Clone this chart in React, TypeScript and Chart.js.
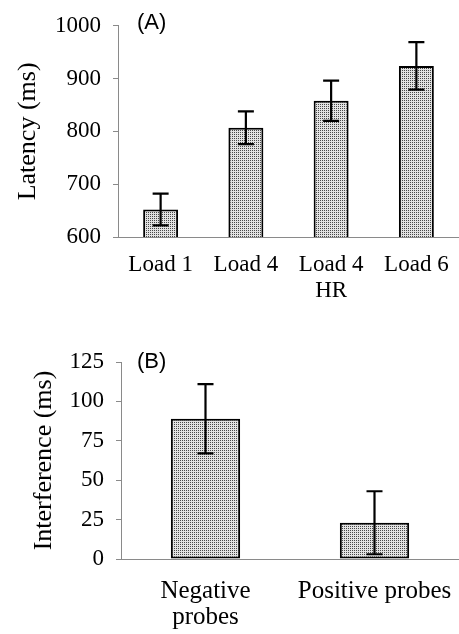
import React, { useEffect, useRef } from "react";
import { Chart, registerables } from "chart.js";

Chart.register(...registerables);

// Panel A data
const loadCategories: (string | string[])[] = ["Load 1", "Load 4", ["Load 4", "HR"], "Load 6"];
const latencyValues = [652, 807, 858, 924];
const latencyErrors = [30, 31, 38, 45];
const latencyTicks = [600, 700, 800, 900, 1000];

// Panel B data
const probeCategories: (string | string[])[] = [["Negative", "probes"], "Positive probes"];
const interferenceValues = [89, 23];
const interferenceErrors = [22, 20];
const interferenceTicks = [0, 25, 50, 75, 100, 125];

const SERIF = "'Liberation Serif', 'Times New Roman', serif";
const SANS = "'Liberation Sans', Arial, sans-serif";

function makePattern(): CanvasPattern | string {
  const c = document.createElement("canvas");
  c.width = 2;
  c.height = 2;
  const g = c.getContext("2d");
  if (!g) return "#bebebe";
  g.fillStyle = "#e2e2e2";
  g.fillRect(0, 0, 2, 2);
  g.fillStyle = "#484848";
  g.fillRect(0, 0, 1, 1);
  const p = g.createPattern(c, "repeat");
  return p || "#bebebe";
}

const errorBarPlugin = {
  id: "errorBars",
  afterDatasetsDraw(chart: any, _args: any, opts: any) {
    const errors: number[] = opts.errors || [];
    const meta = chart.getDatasetMeta(0);
    const data: number[] = chart.data.datasets[0].data;
    const y = chart.scales.y;
    const ctx = chart.ctx;
    ctx.save();
    ctx.strokeStyle = "#000";
    ctx.lineWidth = 2.2;
    const cap = 8;
    meta.data.forEach((bar: any, i: number) => {
      const v = data[i];
      const e = errors[i];
      const yt = y.getPixelForValue(v + e);
      const yb = y.getPixelForValue(v - e);
      const x = bar.x;
      ctx.beginPath();
      ctx.moveTo(x, yt);
      ctx.lineTo(x, yb);
      ctx.moveTo(x - cap, yt);
      ctx.lineTo(x + cap, yt);
      ctx.moveTo(x - cap, yb);
      ctx.lineTo(x + cap, yb);
      ctx.stroke();
    });
    ctx.restore();
  },
};

const panelLabelPlugin = {
  id: "panelLabel",
  afterDraw(chart: any, _args: any, opts: any) {
    const ctx = chart.ctx;
    ctx.save();
    ctx.font = `22px ${SANS}`;
    ctx.fillStyle = "#000";
    ctx.textAlign = "left";
    ctx.textBaseline = "middle";
    ctx.fillText(opts.text, opts.x, opts.y);
    ctx.restore();
  },
};

function buildConfig(p: {
  labels: (string | string[])[];
  values: number[];
  errors: number[];
  ticks: number[];
  title: string;
  panel: string;
  panelY: number;
  yWidth: number;
  xHeight: number;
  padTop: number;
  titlePad: number;
  labelPad: number;
  labelSize: number;
  labelLineHeight: number;
  tickSize: number;
}): any {
  const min = p.ticks[0];
  const max = p.ticks[p.ticks.length - 1];
  const step = p.ticks[1] - p.ticks[0];
  return {
    type: "bar",
    data: {
      labels: p.labels,
      datasets: [
        {
          data: p.values,
          backgroundColor: makePattern(),
          borderColor: "#000",
          borderWidth: 2,
          borderSkipped: false,
          barPercentage: 0.41,
          categoryPercentage: 1,
        },
      ],
    },
    options: {
      responsive: false,
      animation: false,
      devicePixelRatio: 1,
      layout: { padding: { top: p.padTop, left: 0, right: 0, bottom: 0 } },
      plugins: {
        legend: { display: false },
        tooltip: { enabled: false },
        errorBars: { errors: p.errors },
        panelLabel: { text: p.panel, x: 137, y: p.panelY },
      },
      scales: {
        x: {
          grid: { display: false, drawTicks: false },
          border: { display: true, color: "#8a8a8a", width: 1 },
          ticks: {
            color: "#000",
            padding: p.labelPad,
            maxRotation: 0,
            autoSkip: false,
            font: { family: SERIF, size: p.labelSize, lineHeight: p.labelLineHeight },
          },
          afterFit(scale: any) {
            scale.height = p.xHeight;
            scale.paddingLeft = 0;
            scale.paddingRight = 0;
          },
        },
        y: {
          min,
          max,
          grid: {
            display: true,
            drawOnChartArea: false,
            drawTicks: true,
            tickLength: 5,
            color: "#8a8a8a",
          },
          border: { display: true, color: "#8a8a8a", width: 1 },
          ticks: {
            stepSize: step,
            color: "#000",
            padding: 12,
            font: { family: SERIF, size: p.tickSize },
            callback: (v: any) => String(v),
          },
          title: {
            display: true,
            text: p.title,
            color: "#000",
            padding: { top: p.titlePad, bottom: 0 },
            font: { family: SERIF, size: 26, lineHeight: 1.2 },
          },
          afterFit(scale: any) {
            scale.width = p.yWidth;
          },
        },
      },
    },
    plugins: [errorBarPlugin, panelLabelPlugin],
  };
}

export default function App() {
  const refA = useRef<HTMLCanvasElement | null>(null);
  const refB = useRef<HTMLCanvasElement | null>(null);

  useEffect(() => {
    if (!refA.current || !refB.current) return;
    const chartA = new Chart(
      refA.current,
      buildConfig({
        labels: loadCategories,
        values: latencyValues,
        errors: latencyErrors,
        ticks: latencyTicks,
        title: "Latency (ms)",
        panel: "(A)",
        panelY: 23,
        yWidth: 118,
        xHeight: 63,
        padTop: 21,
        titlePad: 13,
        labelPad: 15,
        labelSize: 23,
        labelLineHeight: 1.12,
        tickSize: 23,
      })
    );
    const chartB = new Chart(
      refB.current,
      buildConfig({
        labels: probeCategories,
        values: interferenceValues,
        errors: interferenceErrors,
        ticks: interferenceTicks,
        title: "Interference (ms)",
        panel: "(B)",
        panelY: 62,
        yWidth: 121,
        xHeight: 75,
        padTop: 62,
        titlePad: 29,
        labelPad: 20,
        labelSize: 25,
        labelLineHeight: 1.02,
        tickSize: 23,
      })
    );
    return () => {
      chartA.destroy();
      chartB.destroy();
    };
  }, []);

  return (
    <div style={{ position: "absolute", left: 0, top: 0, width: 459, height: 634, background: "#fff" }}>
      <canvas ref={refA} width={459} height={300} style={{ position: "absolute", left: 0, top: 0 }} />
      <canvas ref={refB} width={459} height={334} style={{ position: "absolute", left: 0, top: 300 }} />
    </div>
  );
}
